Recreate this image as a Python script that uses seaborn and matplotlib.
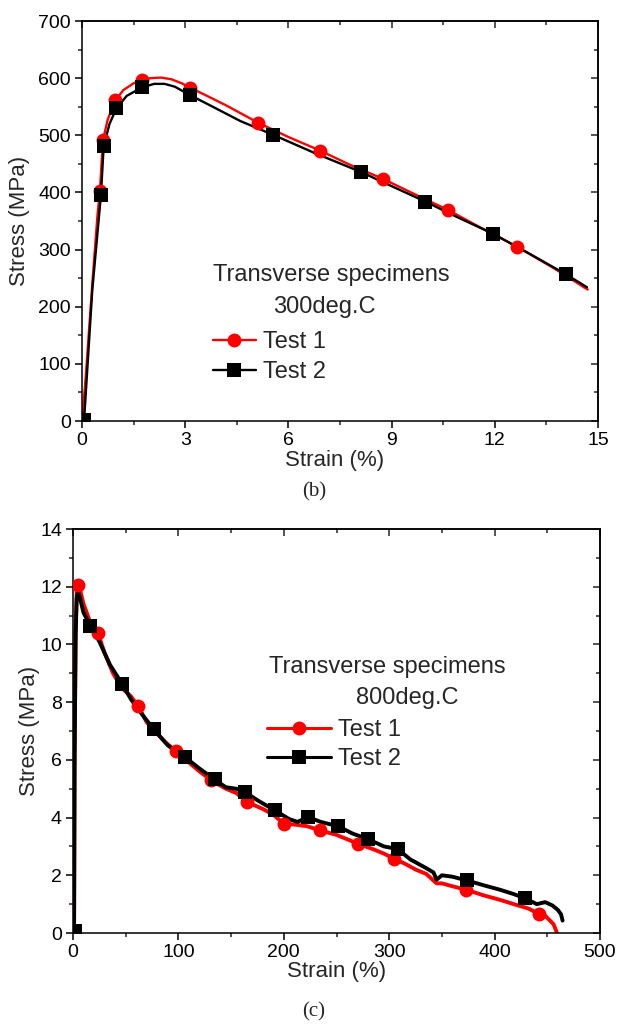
import numpy as np
import pandas as pd
import matplotlib
matplotlib.use("Agg")
import matplotlib.pyplot as plt
from matplotlib.lines import Line2D
from matplotlib.ticker import MultipleLocator
import seaborn as sns

# ---------------- data: panel (b) 300 deg.C ----------------
b_t1_line_x = [0, 0.1, 0.3, 0.45, 0.52, 0.61, 0.75, 0.97, 1.2, 1.5, 1.75, 2.0, 2.3, 2.6, 2.9, 3.15,
               3.6, 4.2, 5.12, 6.0, 6.93, 7.8, 8.74, 9.7, 10.65, 11.6, 12.65, 13.7, 14.7]
b_t1_line_y = [0, 70, 240, 360, 402, 492, 528, 561, 579, 591, 597, 600, 601, 598, 591, 583,
               570, 552, 522, 497, 473, 448, 424, 396, 369, 338, 305, 268, 230]
b_t1_mark_x = [0, 0.52, 0.61, 0.97, 1.75, 3.15, 5.12, 6.93, 8.74, 10.65, 12.65]
b_t1_mark_y = [0, 402, 492, 561, 597, 583, 522, 473, 424, 369, 305]

b_t2_line_x = [0, 0.06, 0.3, 0.55, 0.63, 0.8, 1.0, 1.3, 1.75, 2.1, 2.4, 2.7, 3.15, 3.8, 4.6,
               5.55, 6.8, 8.1, 9.0, 9.98, 10.9, 11.94, 13.0, 14.06, 14.68]
b_t2_line_y = [0, 1, 230, 395, 481, 520, 547, 569, 584, 590, 590, 585, 570, 550, 525,
               501, 468, 436, 411, 384, 357, 328, 293, 257, 234]
b_t2_mark_x = [0.06, 0.55, 0.63, 1.0, 1.75, 3.15, 5.55, 8.1, 9.98, 11.94, 14.06]
b_t2_mark_y = [1, 395, 481, 547, 584, 570, 501, 436, 384, 328, 257]

# ---------------- data: panel (c) 800 deg.C ----------------
c_t1_line_x = [1, 1.5, 2.5, 3.5, 4.7, 6, 10, 16, 23.7, 30, 38, 46, 55, 61.7, 70, 80, 88, 97.4,
               107, 120, 131.3, 145, 155, 165, 180, 190, 200, 212, 222, 234, 250, 260, 270,
               285, 295, 305, 315, 325, 335, 345, 350, 360, 373, 390, 405, 420, 432, 442,
               448, 452, 456, 459]
c_t1_line_y = [0, 6, 10.5, 11.8, 12.06, 12.0, 11.4, 10.8, 10.40, 9.7, 9.0, 8.5, 8.2, 7.87, 7.3,
               6.9, 6.6, 6.31, 6.0, 5.6, 5.29, 5.0, 4.85, 4.54, 4.3, 4.1, 3.79, 3.75, 3.7, 3.56,
               3.4, 3.25, 3.1, 2.9, 2.75, 2.57, 2.4, 2.2, 2.05, 1.72, 1.72, 1.62, 1.5, 1.3, 1.15,
               0.98, 0.85, 0.66, 0.6, 0.45, 0.3, 0.02]
c_t1_mark_x = [1, 4.7, 23.7, 61.7, 97.4, 131.3, 165, 200, 234, 270, 305, 373, 442]
c_t1_mark_y = [0, 12.06, 10.40, 7.87, 6.31, 5.29, 4.54, 3.79, 3.56, 3.10, 2.57, 1.50, 0.66]

c_t2_line_x = [1, 1.5, 2.5, 3.5, 4.7, 6, 10, 16.5, 25, 35, 46.8, 55, 65, 76.6, 90, 106, 120,
               134.4, 145, 155, 163, 175, 191.4, 205, 213, 223, 235, 251.4, 265, 280, 295,
               308, 320, 335, 342, 345, 350, 360, 374, 390, 405, 418, 429, 440, 448, 455,
               460, 463, 464.5]
c_t2_line_y = [0, 6, 10.3, 11.6, 11.82, 11.7, 11.1, 10.65, 10.1, 9.3, 8.62, 8.1, 7.6, 7.06, 6.5,
               6.10, 5.7, 5.32, 5.05, 5.0, 4.89, 4.6, 4.25, 3.95, 3.85, 4.02, 3.85, 3.70, 3.45,
               3.25, 3.0, 2.91, 2.55, 2.25, 2.1, 1.85, 2.0, 1.95, 1.82, 1.65, 1.5, 1.35, 1.2,
               1.0, 1.07, 0.95, 0.8, 0.65, 0.43]
c_t2_mark_x = [2, 16.5, 46.8, 76.6, 106, 134.4, 163, 191.4, 223, 251.4, 280, 308, 374, 429]
c_t2_mark_y = [0.08, 10.65, 8.62, 7.06, 6.10, 5.32, 4.89, 4.25, 4.02, 3.70, 3.25, 2.91, 1.82, 1.20]

series_labels = ["Test 1", "Test 2"]
series_colors = ["#FF0000", "#000000"]
series_markers = ["o", "s"]

# ---------------- style ----------------
sns.set_style("ticks")
plt.rcParams["font.family"] = ["Liberation Sans", "DejaVu Sans"]
plt.rcParams["axes.linewidth"] = 1.1
plt.rcParams["axes.edgecolor"] = "black"

W, H = 619, 1027
fig = plt.figure(figsize=(W / 100, H / 100), dpi=100)


def px_axes(left, right, top, bottom):
    return fig.add_axes([left / W, 1 - bottom / H, (right - left) / W, (bottom - top) / H])


ax_b = px_axes(82, 598, 21, 421)
ax_c = px_axes(73, 600, 529, 933)


def draw_panel(ax, lines, marks, lw, ms):
    for (lx, ly), (mx, my), col, mk in zip(lines, marks, series_colors, series_markers):
        sns.lineplot(x=lx, y=ly, ax=ax, color=col, lw=lw, estimator=None, sort=False,
                     legend=False)
        sns.scatterplot(x=mx, y=my, ax=ax, color=col, marker=mk, s=ms ** 2,
                        edgecolor=col, linewidth=0, legend=False, zorder=3)


def style_axes(ax, xmaj, xmin, ymaj, ymin, xlim, ylim):
    ax.set_xlim(*xlim)
    ax.set_ylim(*ylim)
    ax.xaxis.set_major_locator(MultipleLocator(xmaj))
    ax.xaxis.set_minor_locator(MultipleLocator(xmin))
    ax.yaxis.set_major_locator(MultipleLocator(ymaj))
    ax.yaxis.set_minor_locator(MultipleLocator(ymin))
    ax.tick_params(which="major", direction="out", length=5, width=1.1, labelsize=14,
                   pad=3, colors="black")
    ax.tick_params(which="minor", direction="out", length=3.2, width=1.1)
    for s in ax.spines.values():
        s.set_visible(True)
        s.set_linewidth(1.1)
    sx = ax.secondary_xaxis("top")
    sx.xaxis.set_major_locator(MultipleLocator(xmaj))
    sx.xaxis.set_minor_locator(MultipleLocator(xmin))
    sx.tick_params(which="major", direction="in", length=5, width=1.1, labeltop=False)
    sx.tick_params(which="minor", direction="in", length=3.2, width=1.1)
    sy = ax.secondary_yaxis("right")
    sy.yaxis.set_major_locator(MultipleLocator(ymaj))
    sy.yaxis.set_minor_locator(MultipleLocator(ymin))
    sy.tick_params(which="major", direction="in", length=5, width=1.1, labelright=False)
    sy.tick_params(which="minor", direction="in", length=3.2, width=1.1)
    ax.set_xlabel("Strain (%)", fontsize=16)
    ax.set_ylabel("Stress (MPa)", fontsize=16)


# panel (b)
draw_panel(ax_b,
           [(b_t1_line_x, b_t1_line_y), (b_t2_line_x, b_t2_line_y)],
           [(b_t1_mark_x, b_t1_mark_y), (b_t2_mark_x, b_t2_mark_y)],
           lw=1.7, ms=10)
style_axes(ax_b, 3, 1.5, 100, 50, (0, 15), (0, 700))
ax_b.xaxis.set_label_coords(0.49, -0.072)
ax_b.yaxis.set_label_coords(-0.1, 0.5)

# panel (c)
draw_panel(ax_c,
           [(c_t1_line_x, c_t1_line_y), (c_t2_line_x, c_t2_line_y)],
           [(c_t1_mark_x, c_t1_mark_y), (c_t2_mark_x, c_t2_mark_y)],
           lw=2.8, ms=10)
style_axes(ax_c, 100, 50, 2, 1, (0, 500), (0, 14))
ax_c.xaxis.set_label_coords(0.50, -0.07)
ax_c.yaxis.set_label_coords(-0.062, 0.5)


def legend_handles(lw, ms):
    return [Line2D([], [], color=c, marker=m, lw=lw, markersize=ms, markeredgewidth=0)
            for c, m in zip(series_colors, series_markers)]


# annotations (b)
ax_b.text(0.254, 0.365, "Transverse specimens", transform=ax_b.transAxes, fontsize=17,
          ha="left", va="center")
ax_b.text(0.370, 0.285, "300deg.C", transform=ax_b.transAxes, fontsize=17,
          ha="left", va="center")
ax_b.legend(legend_handles(1.7, 10), series_labels, loc="upper left",
            bbox_to_anchor=(0.254, 0.225), frameon=False, fontsize=17, handlelength=1.8,
            handletextpad=0.3, labelspacing=0.35, borderpad=0, borderaxespad=0)

# annotations (c)
ax_c.text(0.372, 0.658, "Transverse specimens", transform=ax_c.transAxes, fontsize=17,
          ha="left", va="center")
ax_c.text(0.537, 0.582, "800deg.C", transform=ax_c.transAxes, fontsize=17,
          ha="left", va="center")
ax_c.legend(legend_handles(2.2, 10), series_labels, loc="upper left",
            bbox_to_anchor=(0.368, 0.53), frameon=False, fontsize=17, handlelength=2.7,
            handletextpad=0.3, labelspacing=0.3, borderpad=0, borderaxespad=0)

# panel captions
fig.text(314 / W, 1 - 492 / H, "(b)", family=["Liberation Serif", "DejaVu Serif"],
         fontsize=15, ha="center", va="center")
fig.text(314 / W, 1 - 1012 / H, "(c)", family=["Liberation Serif", "DejaVu Serif"],
         fontsize=15, ha="center", va="center")

fig.savefig("out.png", dpi=100)
